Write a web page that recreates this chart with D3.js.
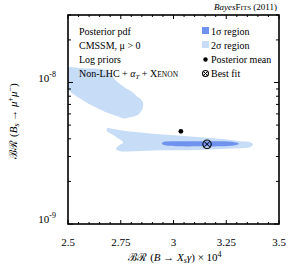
<!DOCTYPE html>
<html>
<head>
<meta charset="utf-8">
<script src="https://cdn.jsdelivr.net/npm/d3@7"></script>
<style>
  body { margin: 0; background: #fff; }
  svg text { font-family: "Liberation Serif", "DejaVu Serif", serif; fill: #000; }
</style>
</head>
<body>
<div id="chart"></div>
<script>
// 2 sigma region, upper island  [BR(B->Xs gamma) x 1e4, BR(Bs->mu mu)]
const sigma2Upper = [
    [2.5, 1.275e-8], [2.533, 1.275e-8], [2.581, 1.255e-8], [2.628, 1.255e-8],
    [2.666, 1.235e-8], [2.690, 1.195e-8], [2.704, 1.14e-8], [2.718, 1.067e-8],
    [2.737, 1.0e-8], [2.756, 9.52e-9], [2.775, 9.07e-9], [2.794, 8.78e-9],
    [2.813, 8.37e-9], [2.827, 7.97e-9], [2.841, 7.71e-9], [2.855, 7.23e-9],
    [2.855, 6.67e-9], [2.846, 6.25e-9], [2.827, 5.86e-9], [2.794, 5.67e-9],
    [2.765, 5.58e-9], [2.737, 5.76e-9], [2.709, 5.95e-9], [2.671, 6.25e-9],
    [2.633, 6.67e-9], [2.595, 7.11e-9], [2.557, 7.71e-9], [2.528, 8.23e-9],
    [2.509, 8.64e-9], [2.5, 8.92e-9]
];
// 2 sigma region, lower band
const sigma2Lower = [
    [2.685, 4.74e-9], [2.723, 4.67e-9], [2.780, 4.52e-9], [2.889, 4.37e-9],
    [3.007, 4.24e-9], [3.126, 4.10e-9], [3.244, 3.97e-9], [3.315, 3.84e-9],
    [3.363, 3.78e-9], [3.377, 3.66e-9], [3.363, 3.49e-9], [3.306, 3.43e-9],
    [3.197, 3.37e-9], [3.078, 3.32e-9], [2.936, 3.32e-9], [2.818, 3.27e-9],
    [2.746, 3.27e-9], [2.727, 3.37e-9], [2.737, 3.54e-9], [2.761, 3.78e-9],
    [2.737, 4.03e-9], [2.709, 4.30e-9], [2.685, 4.52e-9]
];
// 1 sigma region
const sigma1 = [
    [2.950, 3.78e-9], [3.031, 3.84e-9], [3.126, 3.84e-9], [3.220, 3.84e-9],
    [3.291, 3.78e-9], [3.310, 3.69e-9], [3.291, 3.60e-9], [3.220, 3.54e-9],
    [3.126, 3.54e-9], [3.031, 3.54e-9], [2.960, 3.60e-9], [2.945, 3.69e-9]
];
const posteriorMean = [3.035, 4.52e-9];
const bestFit = [3.159, 3.66e-9];

const xTicks = [2.5, 2.75, 3, 3.25, 3.5];
const xTickLabels = ["2.5", "2.75", "3", "3.25", "3.5"];
const yMajorTicks = [1e-9, 1e-8];
const yTickExp = ["-9", "-8"];
const infoLines = ["Posterior pdf", "CMSSM, \u03bc > 0", "Log priors"];
const legendLabels = ["1\u03c3 region", "2\u03c3 region", "Posterior mean", "Best fit"];

const width = 288, height = 274;
const margin = { top: 15, right: 9, bottom: 50, left: 68 };
const color1 = "#6f92ee", color2 = "#c7dcf6";

const svg = d3.select("#chart").append("svg")
    .attr("width", width)
    .attr("height", height);

const x = d3.scaleLinear().domain([2.5, 3.5]).range([margin.left, width - margin.right]);
const y = d3.scaleLog().domain([1e-9, 3e-8]).range([height - margin.bottom, margin.top]);

const area = d3.line()
    .x(d => x(d[0]))
    .y(d => y(d[1]))
    .curve(d3.curveCatmullRomClosed.alpha(0.5));

svg.append("clipPath").attr("id", "clip")
    .append("rect")
    .attr("x", x(2.5)).attr("y", y(3e-8))
    .attr("width", x(3.5) - x(2.5)).attr("height", y(1e-9) - y(3e-8));

const plot = svg.append("g").attr("clip-path", "url(#clip)");
plot.append("path").attr("d", area(sigma2Upper)).attr("fill", color2);
plot.append("path").attr("d", area(sigma2Lower)).attr("fill", color2);
plot.append("path").attr("d", area(sigma1)).attr("fill", color1);

plot.append("circle")
    .attr("cx", x(posteriorMean[0])).attr("cy", y(posteriorMean[1]))
    .attr("r", 2.4).attr("fill", "#000");

function crossCircle(g, cx, cy, r) {
    g.append("circle").attr("cx", cx).attr("cy", cy).attr("r", r)
        .attr("fill", "none").attr("stroke", "#000").attr("stroke-width", 1.1);
    const k = r * 0.7;
    g.append("path")
        .attr("d", `M${cx - k},${cy - k}L${cx + k},${cy + k}M${cx - k},${cy + k}L${cx + k},${cy - k}`)
        .attr("stroke", "#000").attr("stroke-width", 1);
}
crossCircle(plot, x(bestFit[0]), y(bestFit[1]), 4.2);

// ticks, inward on all four sides
const ticks = svg.append("g").attr("stroke", "#000").attr("stroke-width", 1);
d3.range(2.5, 3.5001, 0.05).forEach(v => {
    const major = xTicks.some(t => Math.abs(t - v) < 1e-6);
    const len = major ? 4 : 2;
    ticks.append("line").attr("x1", x(v)).attr("x2", x(v))
        .attr("y1", y(1e-9)).attr("y2", y(1e-9) - len);
    ticks.append("line").attr("x1", x(v)).attr("x2", x(v))
        .attr("y1", y(3e-8)).attr("y2", y(3e-8) + len);
});
y.ticks().forEach(v => {
    const major = yMajorTicks.some(t => Math.abs(t - v) / t < 1e-6);
    const len = major ? 5 : 3;
    ticks.append("line").attr("x1", x(2.5)).attr("x2", x(2.5) + len)
        .attr("y1", y(v)).attr("y2", y(v));
    ticks.append("line").attr("x1", x(3.5)).attr("x2", x(3.5) - len)
        .attr("y1", y(v)).attr("y2", y(v));
});

// frame
svg.append("rect")
    .attr("x", x(2.5)).attr("y", y(3e-8))
    .attr("width", x(3.5) - x(2.5)).attr("height", y(1e-9) - y(3e-8))
    .attr("fill", "none").attr("stroke", "#000").attr("stroke-width", 1.6);

// tick labels
svg.selectAll(".xlab").data(xTicks).enter().append("text")
    .attr("x", d => x(d)).attr("y", 246)
    .attr("text-anchor", "middle").style("font-size", "11px")
    .text((d, i) => xTickLabels[i]);

yMajorTicks.forEach((v, i) => {
    const t = svg.append("text").attr("x", 56).attr("y", y(v) - 1)
        .attr("text-anchor", "end").style("font-size", "11px");
    t.append("tspan").text("10");
    t.append("tspan").attr("dy", -5).style("font-size", "8px").text(yTickExp[i]);
});

// axis titles
const xt = svg.append("text").attr("x", 175).attr("y", 261)
    .attr("text-anchor", "middle").style("font-size", "11px");
xt.append("tspan").style("font-weight", "normal").text("\u212c\u211b");
xt.append("tspan").text(" (");
xt.append("tspan").style("font-style", "italic").text("B");
xt.append("tspan").text(" \u2192 ");
xt.append("tspan").style("font-style", "italic").text("X");
xt.append("tspan").attr("dy", 2).style("font-size", "8px").style("font-style", "italic").text("s");
xt.append("tspan").attr("dy", -2).style("font-style", "italic").text("\u03b3");
xt.append("tspan").text(") \u00d7 10");
xt.append("tspan").attr("dy", -4).style("font-size", "8px").text("4");

const yt = svg.append("text")
    .attr("transform", "translate(17,121) rotate(-90)")
    .attr("text-anchor", "middle").style("font-size", "11px");
yt.append("tspan").text("\u212c\u211b");
yt.append("tspan").text(" (");
yt.append("tspan").style("font-style", "italic").text("B");
yt.append("tspan").attr("dy", 2).style("font-size", "8px").style("font-style", "italic").text("s");
yt.append("tspan").attr("dy", -2).text(" \u2192 ");
yt.append("tspan").style("font-style", "italic").text("\u03bc");
yt.append("tspan").attr("dy", -4).style("font-size", "8px").text("+");
yt.append("tspan").attr("dy", 4).style("font-style", "italic").text("\u03bc");
yt.append("tspan").attr("dy", -4).style("font-size", "8px").text("\u2212");
yt.append("tspan").attr("dy", 4).text(")");

// header
const hd = svg.append("text").attr("x", 277).attr("y", 10)
    .attr("text-anchor", "end").style("font-size", "9px");
hd.append("tspan").style("font-style", "italic").text("Bayes");
hd.append("tspan").text("F");
hd.append("tspan").style("font-size", "7px").text("ITS");
hd.append("tspan").text(" (2011)");

// info text block
const rowY = [35, 49, 63, 77];
infoLines.forEach((s, i) => {
    svg.append("text").attr("x", 79).attr("y", rowY[i])
        .style("font-size", "10px").text(s);
});
const nl = svg.append("text").attr("x", 79).attr("y", rowY[3]).style("font-size", "10px");
nl.append("tspan").text("Non-LHC + ");
nl.append("tspan").style("font-style", "italic").text("\u03b1");
nl.append("tspan").attr("dy", 2).style("font-size", "7px").style("font-style", "italic").text("T");
nl.append("tspan").attr("dy", -2).text(" + X");
nl.append("tspan").style("font-size", "7.5px").text("ENON");

// legend
const lg = svg.append("g");
[color1, color2].forEach((c, i) => {
    lg.append("rect").attr("x", 202).attr("y", rowY[i] - 8)
        .attr("width", 7).attr("height", 7).attr("fill", c);
});
lg.append("circle").attr("cx", 205.5).attr("cy", rowY[2] - 3.5).attr("r", 2.2).attr("fill", "#000");
crossCircle(lg, 205.5, rowY[3] - 3.5, 3);
legendLabels.forEach((s, i) => {
    lg.append("text").attr("x", 211).attr("y", rowY[i])
        .style("font-size", "10px").text(s);
});
</script>
</body>
</html>
